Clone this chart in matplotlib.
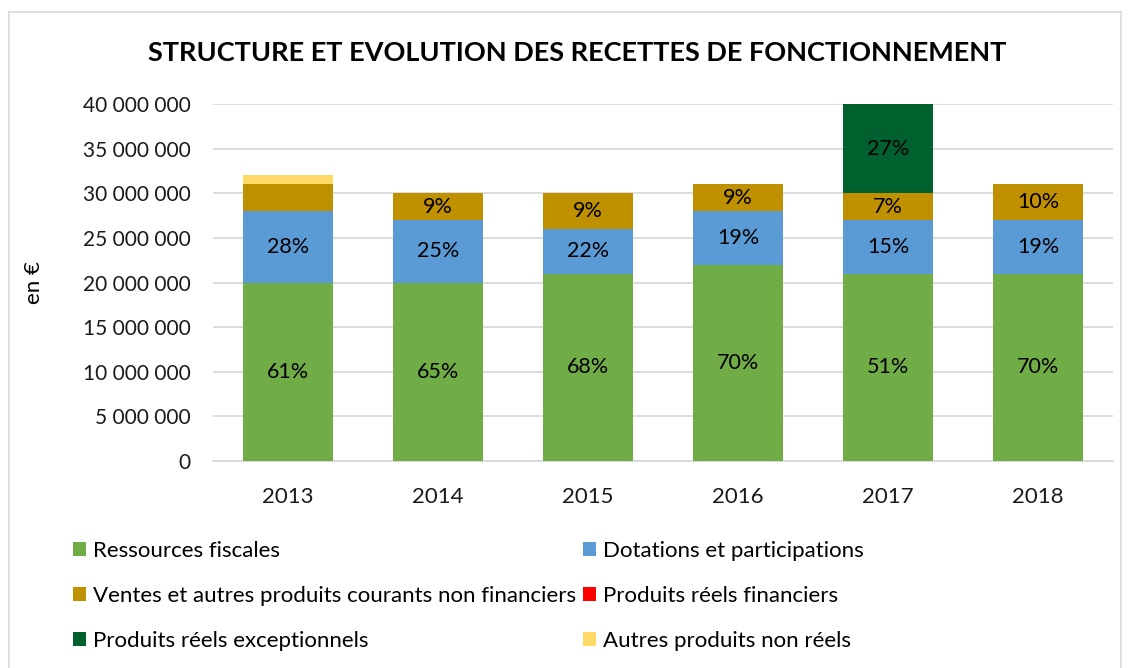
import matplotlib
matplotlib.use('Agg')
import matplotlib.pyplot as plt
from matplotlib.patches import Patch
from matplotlib.lines import Line2D
import numpy as np

plt.rcParams['font.family'] = ['Lato', 'DejaVu Sans']

years = ['2013', '2014', '2015', '2016', '2017', '2018']

# valeurs en euros
fiscales = [20e6, 20e6, 21e6, 22e6, 21e6, 21e6]
dotations = [8e6, 7e6, 5e6, 6e6, 6e6, 6e6]
ventes = [3e6, 3e6, 4e6, 3e6, 3e6, 4e6]
financiers = [0, 0, 0, 0, 0, 0]
exceptionnels = [0, 0, 0, 0, 10e6, 0]
non_reels = [1e6, 0, 0, 0, 0, 0]

# étiquettes affichées
lab_fiscales = ['61%', '65%', '68%', '70%', '51%', '70%']
lab_dotations = ['28%', '25%', '22%', '19%', '15%', '19%']
lab_ventes = ['', '9%', '9%', '9%', '7%', '10%']
lab_exceptionnels = ['', '', '', '', '27%', '']

series = [
    ('Ressources fiscales', fiscales, '#70AD47', lab_fiscales),
    ('Dotations et participations', dotations, '#5B9BD5', lab_dotations),
    ('Ventes et autres produits courants non financiers', ventes, '#BF9000', lab_ventes),
    ('Produits réels financiers', financiers, '#FF0000', None),
    ('Produits réels exceptionnels', exceptionnels, '#00612E', lab_exceptionnels),
    ('Autres produits non réels', non_reels, '#FFD966', None),
]

fig = plt.figure(figsize=(11.31, 6.68), dpi=100)
ax = fig.add_axes([213 / 1131, 207 / 668, 900 / 1131, 357 / 668])

x = np.arange(len(years))
bottom = np.zeros(len(years))
handles = []
for name, vals, col, labs in series:
    vals = np.array(vals)
    bars = ax.bar(x, vals, 0.6, bottom=bottom, color=col, zorder=3)
    if labs is not None:
        ax.bar_label(bars, labels=labs, label_type='center', fontsize=15.5, color='black')
    bottom += vals
    handles.append(Patch(facecolor=col, label=name))

ax.set_xlim(-0.5, len(years) - 0.5)
ax.set_ylim(0, 40e6)
yt = np.arange(0, 40e6 + 1, 5e6)
ax.set_yticks(yt)
ax.set_yticklabels(['0' if v == 0 else f'{int(v):,}'.replace(',', ' ') for v in yt])
ax.set_xticks(x)
ax.set_xticklabels(years)
ax.tick_params(axis='both', length=0, colors='#1a1a1a')
ax.tick_params(axis='y', pad=16, labelsize=15)
ax.tick_params(axis='x', pad=19, labelsize=16)
ax.grid(axis='y', color='#D9D9D9', linewidth=1.3, zorder=0)
for s in ['top', 'right', 'left']:
    ax.spines[s].set_visible(False)
ax.spines['bottom'].set_color('#D9D9D9')
ax.spines['bottom'].set_linewidth(1.3)
ax.set_ylabel('en €', fontsize=16)
ax.yaxis.set_label_coords(-(213 - 44) / 900, 0.5)

fig.text(0.51, 1 - 53 / 668, 'STRUCTURE ET EVOLUTION DES RECETTES DE FONCTIONNEMENT',
         ha='center', va='center', fontsize=19.5, fontweight='bold')

order = [0, 2, 4, 1, 3, 5]
leg = fig.legend([handles[i] for i in order], [handles[i].get_label() for i in order],
                 ncol=2, loc='upper left', bbox_to_anchor=(64 / 1131, 1 - 532 / 668),
                 frameon=False, fontsize=16, handlelength=0.6, handleheight=0.6,
                 handletextpad=0.3, columnspacing=0.3, labelspacing=1.12, borderaxespad=0)

# cadre du graphique
fig.add_artist(Line2D([9 / 1131, 9 / 1131], [0, 1 - 12 / 668], color='#D9D9D9', lw=1.2))
fig.add_artist(Line2D([9 / 1131, 1121 / 1131], [1 - 12 / 668, 1 - 12 / 668], color='#D9D9D9', lw=1.2))
fig.add_artist(Line2D([1121 / 1131, 1121 / 1131], [0, 1 - 12 / 668], color='#D9D9D9', lw=1.2))

fig.savefig('out.png', dpi=100)
